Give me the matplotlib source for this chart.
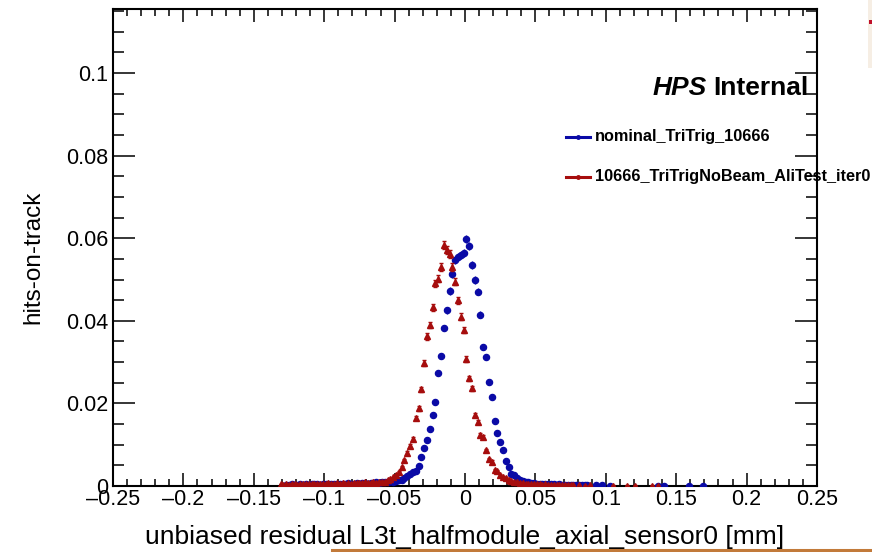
import numpy as np
import matplotlib
matplotlib.use("Agg")
import matplotlib.pyplot as plt
from matplotlib.ticker import MultipleLocator, FuncFormatter
from matplotlib.lines import Line2D
from matplotlib.patches import Rectangle

plt.rcParams['font.family'] = ['Liberation Sans', 'DejaVu Sans']

binWidth = 0.002

# nominal_TriTrig_10666 (blue), contiguous bins starting at blueStart
blueStart = -0.127
blueVals = [0.0003, 0.0002, 0.0004, 0.0003, 0.0002, 0.0004, 0.0003, 0.0005, 0.0003, 0.0004,
            0.0005, 0.0004, 0.0003, 0.0005, 0.0004, 0.0006, 0.0005, 0.0004, 0.0006, 0.0005,
            0.0006, 0.0005, 0.0007, 0.0006, 0.0005, 0.0007, 0.0006, 0.0008, 0.0007, 0.0006,
            0.0008, 0.0007, 0.0009, 0.0008, 0.0009, 0.0010, 0.0009, 0.0011, 0.0010, 0.0012,
            0.0014, 0.0015, 0.0019, 0.0024, 0.0030,
            0.0035, 0.0037, 0.0048, 0.0071, 0.0093, 0.0111, 0.0137, 0.0172, 0.0203, 0.0274,
            0.0315, 0.0382, 0.0425, 0.0472, 0.0513, 0.0547, 0.0554, 0.0559, 0.0565, 0.0597,
            0.0581, 0.0535, 0.0499, 0.0470, 0.0415, 0.0337, 0.0312, 0.0253, 0.0215, 0.0157,
            0.0129, 0.0107, 0.0087, 0.0060, 0.0047,
            0.0030, 0.0026, 0.0019, 0.0015, 0.0013, 0.0010, 0.0009, 0.0008, 0.0007, 0.0006,
            0.0006, 0.0005, 0.0005, 0.0004, 0.0004, 0.0005, 0.0003, 0.0004, 0.0003, 0.0003,
            0.0002, 0.0003, 0.0002, 0.0003, 0.0002, 0.0002, 0.0003, 0.0002]
blueOutX = [0.093, 0.097, 0.103, 0.137, 0.141, 0.159, 0.169]
blueOutY = [0.0002, 0.0002, 0.0001, 0.0001, 0.0001, 0.0001, 0.0001]

# 10666_TriTrigNoBeam_AliTest_iter0 (red)
redStart = -0.131
redVals = [0.0005, 0.0003, 0.0004, 0.0003, 0.0005, 0.0004, 0.0003, 0.0005, 0.0004, 0.0006,
           0.0004, 0.0005, 0.0006, 0.0005, 0.0004, 0.0006, 0.0005, 0.0007, 0.0006, 0.0005,
           0.0007, 0.0006, 0.0008, 0.0006, 0.0007, 0.0006, 0.0008, 0.0007, 0.0008, 0.0007,
           0.0009, 0.0008, 0.0008, 0.0009, 0.0008, 0.0010, 0.0009,
           0.0010, 0.0015, 0.0016, 0.0021, 0.0027, 0.0035, 0.0045, 0.0062, 0.0080, 0.0098,
           0.0114, 0.0165, 0.0188, 0.0234, 0.0297, 0.0362, 0.0390, 0.0433, 0.0491, 0.0502,
           0.0531, 0.0584, 0.0571, 0.0561, 0.0531, 0.0495, 0.0450, 0.0410, 0.0378, 0.0307,
           0.0261, 0.0237, 0.0172, 0.0156, 0.0123, 0.0119, 0.0087, 0.0065, 0.0059, 0.0039,
           0.0037, 0.0027, 0.0023, 0.0019, 0.0015,
           0.0012, 0.0010, 0.0009, 0.0008, 0.0007, 0.0006, 0.0006, 0.0005, 0.0005, 0.0004,
           0.0004, 0.0003, 0.0004, 0.0003, 0.0003, 0.0002, 0.0003, 0.0002, 0.0002, 0.0003,
           0.0002, 0.0002, 0.0002]
redOutX = [0.081, 0.085, 0.089, 0.105, 0.115, 0.121, 0.133, 0.137]
redOutY = [0.0002, 0.0001, 0.0002, 0.0001, 0.0001, 0.0001, 0.0001, 0.0001]

blueColor = '#0a0aa6'
redColor = '#a60d0d'

W, H = 872, 552
fig = plt.figure(figsize=(W / 100, H / 100), dpi=100)
ax = fig.add_axes([113 / W, (H - 486) / H, (817 - 113) / W, (486 - 9) / H])


def histPoints(start, vals, outX, outY):
  x = list(start + binWidth * np.arange(len(vals))) + outX
  y = np.array(list(vals) + outY)
  err = 0.004 * np.sqrt(y)  # stat error, only visible near the peak
  return x, y, err


bx, by, be = histPoints(blueStart, blueVals, blueOutX, blueOutY)
rx, ry, re = histPoints(redStart, redVals, redOutX, redOutY)
ax.errorbar(bx, by, yerr=be, fmt='o', ms=4.4, color=blueColor, elinewidth=1, capsize=0, zorder=3)
ax.errorbar(rx, ry, yerr=re, fmt='^', ms=4.8, color=redColor, elinewidth=1, capsize=1.5, zorder=4)

ax.set_xlim(-0.25, 0.25)
ax.set_ylim(0, 0.1155)
ax.xaxis.set_major_locator(MultipleLocator(0.05))
ax.xaxis.set_minor_locator(MultipleLocator(0.01))
ax.yaxis.set_major_locator(MultipleLocator(0.02))
ax.yaxis.set_minor_locator(MultipleLocator(0.005))
fmt = FuncFormatter(lambda v, p: ('%g' % round(v, 4)).replace('-', '\u2013'))
ax.xaxis.set_major_formatter(fmt)
ax.yaxis.set_major_formatter(fmt)
ax.tick_params(which='both', direction='in', top=True, right=True, width=1.1, labelsize=15.5)
ax.tick_params(axis='x', which='major', length=9.5, pad=2.5)
ax.tick_params(axis='x', which='minor', length=4.8)
ax.tick_params(axis='y', which='major', length=16, pad=3.5)
ax.tick_params(axis='y', which='minor', length=8)
for s in ax.spines.values():
  s.set_linewidth(1.5)

ax.set_xlabel('unbiased residual L3t_halfmodule_axial_sensor0 [mm]', fontsize=19, va='center')
ax.xaxis.set_label_coords(0.5, -0.107)
ax.set_ylabel('hits-on-track', fontsize=17.5, va='center')
ax.yaxis.set_label_coords(-0.1136, 0.48)

# HPS Internal label
tInt = fig.text(808 / W, 1 - 95 / H, 'Internal', fontsize=19, fontweight='bold', ha='right', va='baseline')
fig.canvas.draw()
bb = tInt.get_window_extent()
fig.text((bb.x0 - 6) / W, 1 - 95 / H, 'HPS', fontsize=19, fontweight='bold', style='italic',
         ha='right', va='baseline')

# legend
legendEntries = [('nominal_TriTrig_10666', blueColor, 137), ('10666_TriTrigNoBeam_AliTest_iter0', redColor, 177)]
for label, col, yPix in legendEntries:
  yf = 1 - yPix / H
  fig.add_artist(Line2D([566 / W, 590 / W], [yf, yf], color=col, lw=2.2))
  fig.add_artist(Line2D([578 / W], [yf], color=col, marker='o', ms=2.5))
  fig.text(595 / W, yf, label, fontsize=11.7, fontweight='bold', ha='left', va='center')

# screenshot edge remnants
fig.add_artist(Rectangle((868 / W, 1 - 68 / H), 4 / W, 68 / H, transform=fig.transFigure,
                         color='#f6eee4', lw=0))
fig.add_artist(Rectangle((869 / W, 1 - 24 / H), 3 / W, 4 / H, transform=fig.transFigure,
                         color='#c0102a', lw=0))
fig.add_artist(Line2D([332 / W, 1.0], [1 - 549.5 / H, 1 - 549.5 / H], color='#c27a3a', lw=2.2))

fig.savefig('out.png', dpi=100)
